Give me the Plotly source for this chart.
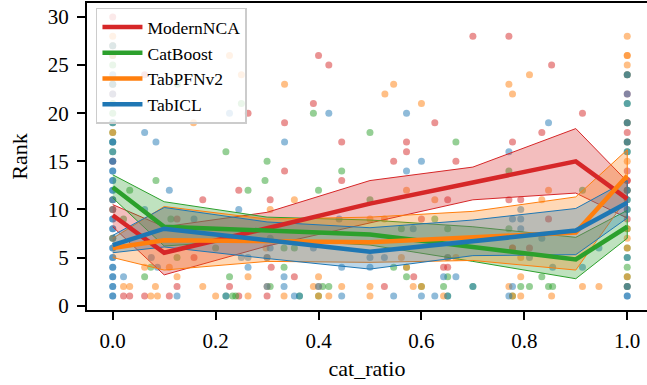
import plotly.graph_objects as go

models = ["ModernNCA", "CatBoost", "TabPFNv2", "TabICL"]
colors = {"ModernNCA": "#d62728", "CatBoost": "#2ca02c", "TabPFNv2": "#ff7f0e", "TabICL": "#1f77b4"}
fills = {"ModernNCA": "rgba(214,39,40,0.3)", "CatBoost": "rgba(44,160,44,0.3)",
         "TabPFNv2": "rgba(255,127,14,0.3)", "TabICL": "rgba(31,119,180,0.3)"}

# ---- scatter points (cat_ratio, rank) ----
red_x = [0, 0, 0, 0, 0, 0,
         0.062, 0.263, 0.40, 0.42, 0.39, 0.334, 0.445, 0.70, 0.77, 0.626, 0.571, 0.571, 0.445, 0.546,
         0.667, 0.777, 0.834, 0.913, 0.853, 0.175, 0.021, 0.033, 0.062, 0.11, 0.125, 0.158, 0.125, 0.227,
         0.30, 0.308, 0.353, 0.306, 0.245, 0.334, 0.651, 0.60, 0.643, 0.651, 0.585, 0.528, 0.77, 0.793,
         0.847, 0.777, 0.81, 0.245,
         1, 1, 1, 1, 1, 1, 1, 1, 1, 1, 1]
red_y = [30, 27, 23, 22, 15, 10,
         24, 20, 26, 25, 21, 19, 17, 28, 28, 19, 17, 16, 13, 15,
         15, 17, 18, 20, 25, 11, 1, 1, 1, 1, 2, 5, 9, 2,
         1, 4, 3, 11, 12, 14, 11, 9, 4, 4, 3, 2, 11, 11,
         9, 6, 6, 1,
         24, 22, 19, 18, 17, 14, 13, 13, 12, 9, 2]

green_x = [0, 0, 0, 0, 0, 0, 0, 0, 0, 0, 0,
           0.126, 0.22, 0.25, 0.39, 0.30, 0.50, 0.667, 0.445, 0.77, 0.40, 0.913, 0.084, 0.033, 0.021,
           0.062, 0.074, 0.125, 0.113, 0.227, 0.306, 0.333, 0.333, 0.353, 0.42, 0.263, 0.296, 0.408,
           0.233, 0.239, 0.2, 0.50, 0.626, 0.561, 0.651, 0.546, 0.571, 0.651, 0.643, 0.77, 0.834, 0.793,
           0.81, 0.847, 0.855, 0.22, 0.363, 0.651, 0.70, 0.40, 0.60, 0.571, 0.777,
           1, 1, 1, 1, 1, 1, 1, 1, 1, 1, 1, 1, 1, 1]
green_y = [27, 26, 25, 23, 21, 20, 19, 18, 17, 16, 7,
           23, 16, 21, 20, 15, 18, 17, 14, 14, 12, 12, 13, 12, 9,
           3, 4, 5, 9, 3, 2, 4, 6, 6, 2, 12, 13, 2,
           1, 1, 6, 11, 9, 8, 8, 4, 3, 3, 2, 8, 3, 2,
           2, 2, 2, 1, 1, 1, 2, 1, 2, 4, 1,
           24, 21, 19, 17, 16, 12, 11, 10, 8, 6, 5, 4, 3, 2]

orange_x = [0, 0, 0, 0, 0, 0,
            0.227, 0.25, 0.157, 0.334, 0.546, 0.529, 0.60, 0.81, 0.77, 0.777, 0.571, 0.847, 0.021, 0.033,
            0.074, 0.087, 0.083, 0.125, 0.062, 0.11, 0.175, 0.2, 0.263, 0.263, 0.298, 0.30, 0.333, 0.4,
            0.4, 0.353, 0.306, 0.39, 0.445, 0.42, 0.40, 0.30, 0.5, 0.528, 0.626, 0.561, 0.667, 0.651,
            0.5, 0.5, 0.584, 0.643, 0.60, 0.571, 0.834, 0.793, 0.793, 0.77, 0.913, 0.945, 0.793, 0.853,
            0.777, 0.777,
            1, 1, 1, 1, 1, 1, 1, 1, 1]
orange_y = [28, 26, 18, 11, 10, 7,
            26, 24, 19, 23, 23, 22, 21, 24, 23, 22, 12, 12, 2, 2,
            1, 1, 2, 3, 4, 4, 2, 1, 1, 3, 6, 2, 1, 3,
            2, 11, 10, 2, 2, 1, 1, 5, 9, 9, 11, 5, 5, 5,
            2, 1, 2, 1, 2, 4, 11, 5, 3, 2, 2, 2, 1, 1,
            1, 6,
            28, 26, 26, 25, 15, 8, 7, 6, 3]

blue_x = [0] * 36 + [
    0.227, 0.062, 0.084, 0.42, 0.334, 0.571, 0.77, 0.60, 0.571, 0.847, 0.11, 0.062, 0.021, 0.125,
    0.087, 0.075, 0.158, 0.263, 0.25, 0.263, 0.30, 0.333, 0.333, 0.353, 0.4, 0.306, 0.39, 0.245,
    0.44, 0.306, 0.445, 0.445, 0.22, 0.363, 0.584, 0.50, 0.528, 0.651, 0.5, 0.643, 0.667, 0.546,
    0.60, 0.626, 0.651, 0.70, 0.793, 0.777, 0.793, 0.793, 0.834, 0.81, 0.855, 0.913, 0.945, 0.777,
    0.77, 0.30] + [1] * 13
blue_y = [1, 2, 3, 4, 5, 6, 7, 8, 9, 10, 11, 12, 13, 14, 15,
          1, 2, 3, 4, 5, 6, 8, 9, 11, 12, 13, 14, 15,
          17, 19, 22, 23, 24, 27, 16, 17] + [
    20, 18, 17, 20, 17, 20, 16, 15, 14, 19, 12, 10, 3, 1,
    4, 5, 9, 4, 5, 5, 2, 3, 2, 1, 2, 6, 6, 10,
    9, 7, 4, 1, 1, 1, 8, 5, 5, 5, 4, 3, 3, 1,
    1, 1, 1, 2, 10, 9, 9, 8, 7, 5, 4, 4, 6, 2,
    1, 5] + [24, 22, 21, 19, 17, 16, 12, 11, 10, 5, 2, 1, 1]

scatter = {"ModernNCA": (red_x, red_y), "CatBoost": (green_x, green_y),
           "TabPFNv2": (orange_x, orange_y), "TabICL": (blue_x, blue_y)}

# ---- trend lines and bands ----
mean_x = [0, 0.1, 0.5, 0.9, 1.0]
mean_y = {
    "ModernNCA": [9.4, 5.5, 10.6, 15.0, 11.1],
    "CatBoost": [12.3, 8.2, 7.4, 4.8, 8.2],
    "TabPFNv2": [6.0, 6.8, 6.6, 7.6, 13.5],
    "TabICL": [6.3, 8.0, 5.6, 7.8, 10.7],
}
band_x = [0, 0.1, 0.3, 0.5, 0.7, 0.9, 1.0]
band_lo = {
    "ModernNCA": [8.2, 3.2, 6.2, 8.6, 11.0, 11.7, 9.1],
    "CatBoost": [11.2, 6.2, 6.9, 6.3, 4.6, 2.8, 7.0],
    "TabPFNv2": [5.0, 3.7, 4.6, 4.5, 4.7, 3.7, 11.2],
    "TabICL": [5.5, 6.1, 4.9, 3.8, 5.2, 5.3, 9.1],
}
band_hi = {
    "ModernNCA": [10.5, 8.2, 9.7, 13.0, 14.4, 18.4, 12.9],
    "CatBoost": [13.6, 10.8, 9.2, 8.9, 8.2, 7.1, 9.9],
    "TabPFNv2": [7.0, 10.3, 9.0, 9.2, 9.8, 11.3, 16.2],
    "TabICL": [7.3, 10.2, 8.7, 8.1, 8.9, 10.1, 13.0],
}

x_ticks = [0.0, 0.2, 0.4, 0.6, 0.8, 1.0]
x_ticklabels = ["0.0", "0.2", "0.4", "0.6", "0.8", "1.0"]
y_ticks = [0, 5, 10, 15, 20, 25, 30]

FONT = "Liberation Serif"
fig = go.Figure()

for m in models:
    xs, ys = scatter[m]
    fig.add_trace(go.Scatter(x=xs, y=ys, mode="markers", showlegend=False, hoverinfo="skip",
                             marker=dict(color=colors[m], size=7, opacity=0.5, line=dict(width=0))))

for m in models:
    px = band_x + band_x[::-1]
    py = band_hi[m] + band_lo[m][::-1]
    fig.add_trace(go.Scatter(x=px, y=py, mode="lines", fill="toself", fillcolor=fills[m],
                             line=dict(color=colors[m], width=1), showlegend=False, hoverinfo="skip"))

for m in models:
    fig.add_trace(go.Scatter(x=mean_x, y=mean_y[m], mode="lines", name=m,
                             line=dict(color=colors[m], width=4.5)))

fig.update_layout(
    width=647, height=385,
    margin=dict(l=87, r=0, t=3, b=75),
    paper_bgcolor="white", plot_bgcolor="white",
    font=dict(family=FONT, color="black", size=21),
    legend=dict(x=0.016, y=0.985, xanchor="left", yanchor="top",
                bgcolor="rgba(255,255,255,0.8)", bordercolor="#cccccc", borderwidth=1.5,
                font=dict(family=FONT, size=17.5), tracegroupgap=0, itemwidth=40),
    xaxis=dict(range=[-0.05, 1.0384], tickvals=x_ticks, ticktext=x_ticklabels,
               showline=True, linecolor="black", linewidth=2, mirror=True,
               ticks="outside", ticklen=8, tickwidth=2, tickcolor="black",
               showgrid=False, zeroline=False, ticklabelstandoff=3,
               title=dict(text="cat_ratio", font=dict(size=22), standoff=8),
               tickfont=dict(size=21)),
    yaxis=dict(range=[-0.45, 31.45], tickvals=y_ticks,
               showline=True, linecolor="black", linewidth=2, mirror=False,
               ticks="outside", ticklen=8, tickwidth=2, tickcolor="black",
               showgrid=False, zeroline=False, ticklabelstandoff=4,
               title=dict(text="Rank", font=dict(size=22), standoff=14),
               tickfont=dict(size=21)),
)

fig.write_html("out.html")
